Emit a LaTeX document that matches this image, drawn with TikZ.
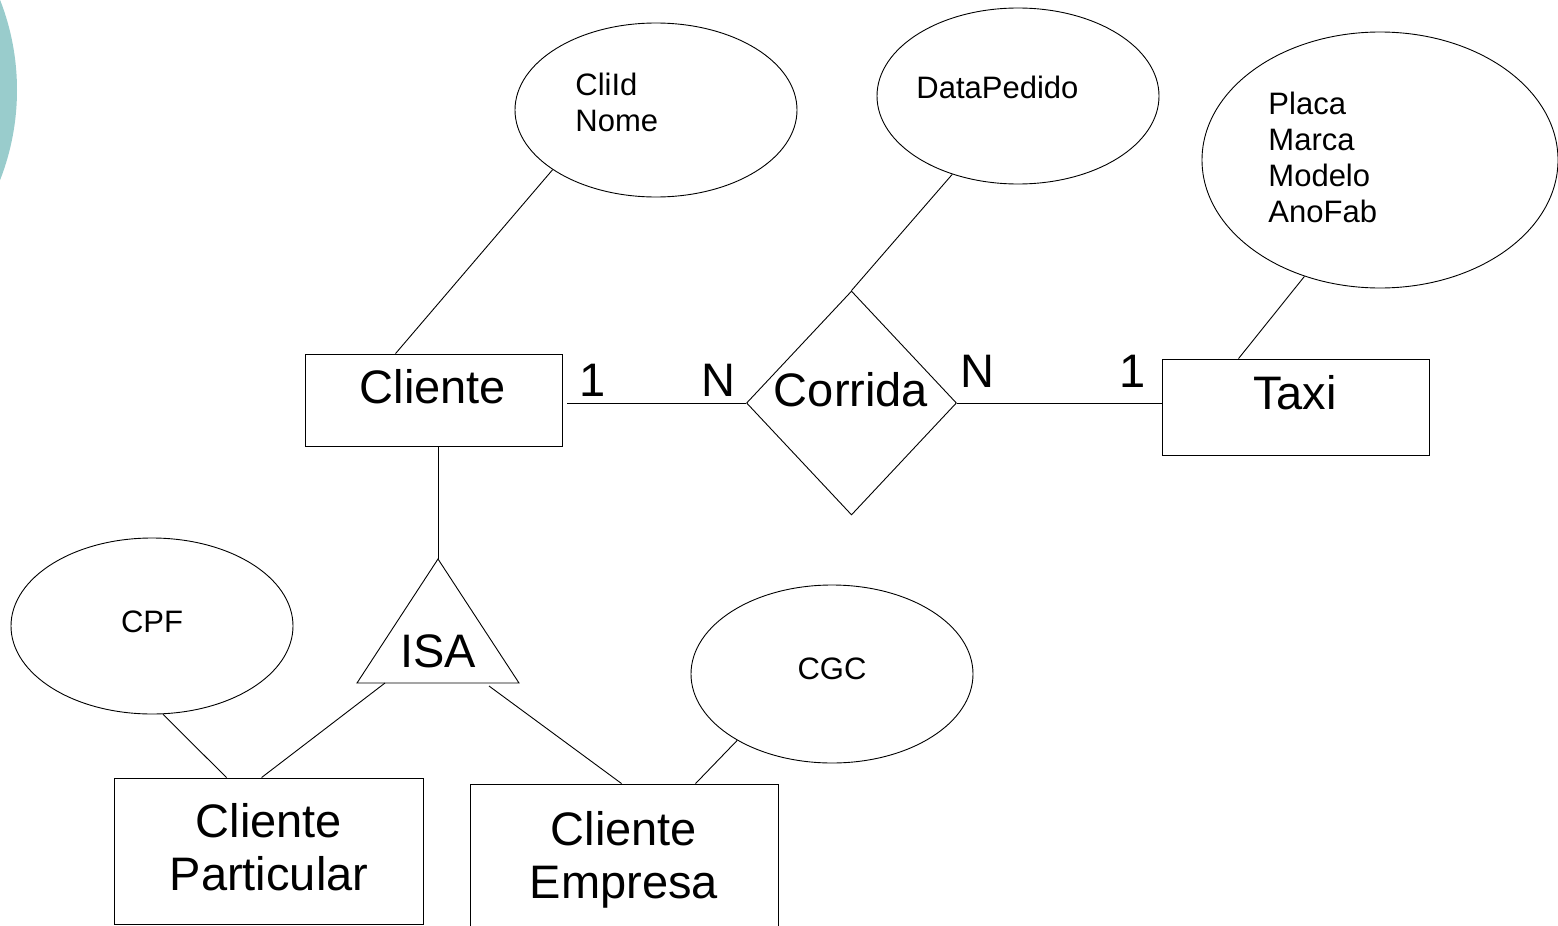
\documentclass[tikz,border=0pt]{standalone}
\usepackage{fontspec}
\setmainfont{Liberation Sans}
\usetikzlibrary{shapes.geometric}
\definecolor{tealdeco}{RGB}{153,204,204}

\begin{document}
\begin{tikzpicture}[x=1pt,y=-1pt,line width=0.9pt,
    ent/.style={draw,rectangle,inner sep=0pt},
    attr/.style={draw,ellipse,inner sep=0pt,minimum width=282pt,minimum height=176pt},
    rel/.style={draw,diamond,inner sep=0pt,minimum width=210pt,minimum height=224pt},
    big/.style={inner sep=0pt,align=center,font=\fontsize{47}{53}\selectfont},
    small/.style={inner sep=0pt,align=left,font=\fontsize{31}{36}\selectfont}]
\useasboundingbox (0,0) rectangle (1558,926);
\fill[tealdeco] (-230,90) circle (247pt);

% entidades e relacionamento
\node[ent,minimum width=257pt,minimum height=92pt] (cli) at (433.5,400) {};
\node[ent,minimum width=267pt,minimum height=96pt] (taxi) at (1295.5,407) {};
\node[ent,minimum width=309pt,minimum height=146pt] (part) at (268.5,851) {};
\node[ent,minimum width=308pt,minimum height=206pt] (emp) at (624,887) {};
\node[rel] (corr) at (851.5,403) {};
\coordinate (isa-top) at (438,559);
\coordinate (isa-bl) at (357,683);
\coordinate (isa-br) at (519,683);
\draw (isa-top) -- (isa-bl) -- (isa-br) -- cycle;

% atributos
\node[attr,minimum height=174pt] (cliattr) at (656,110) {};
\node[attr] (dp) at (1018,96) {};
\node[attr,minimum width=356pt,minimum height=256pt] (taxattr) at (1380,160) {};
\node[attr] (cpf) at (152,626) {};
\node[attr,minimum height=178pt] (cgc) at (832,674) {};

% textos
\node[big,anchor=base] (cli-t) at (433,403) {Cliente};
\node[big,anchor=base] (corr-t) at (851,406) {Corrida};
\node[big,anchor=base] (taxi-t) at (1295,409) {Taxi};
\node[big,anchor=base] (isa-t) at (438,667) {ISA};
\node[big,anchor=north] (part-t) at (269,803) {Cliente\\Particular};
\node[big,anchor=north] (emp-t) at (624,811) {Cliente\\Empresa};
\node[big,anchor=base] (c1) at (593,396) {1};
\node[big,anchor=base] (c2) at (718,396) {N};
\node[big,anchor=base] (c3) at (977,387) {N};
\node[big,anchor=base] (c4) at (1133,387) {1};
\node[small,anchor=north west] (cliattr-t) at (575,73) {CliId\\Nome};
\node[small,anchor=base west] (dp-t) at (916,98) {DataPedido};
\node[small,anchor=north west] (taxattr-t) at (1268,92) {Placa\\Marca\\Modelo\\AnoFab};
\node[small,anchor=base] (cpf-t) at (152,632) {CPF};
\node[small,anchor=base] (cgc-t) at (832,679) {CGC};

% ligacoes
\draw (cliattr.210) -- ([xshift=91pt]cli.north west);
\draw (dp.230) -- (corr.north);
\draw (taxattr.237) -- ([xshift=77pt]taxi.north west);
\draw ([xshift=5pt]corr.west -| cli.east) -- (corr.west);
\draw (corr.east) -- (corr.east -| taxi.west);
\draw (isa-top) -- (isa-top |- cli.south);
\draw (cpf.-83) -- ([xshift=113pt]part.north west);
\draw (385,683) coordinate (isa-l) -- ([xshift=148pt]part.north west);
\draw (489,686) coordinate (isa-r) -- ([xshift=152pt]emp.north west);
\draw (cgc.215) -- ([xshift=226pt]emp.north west);
\end{tikzpicture}
\end{document}
